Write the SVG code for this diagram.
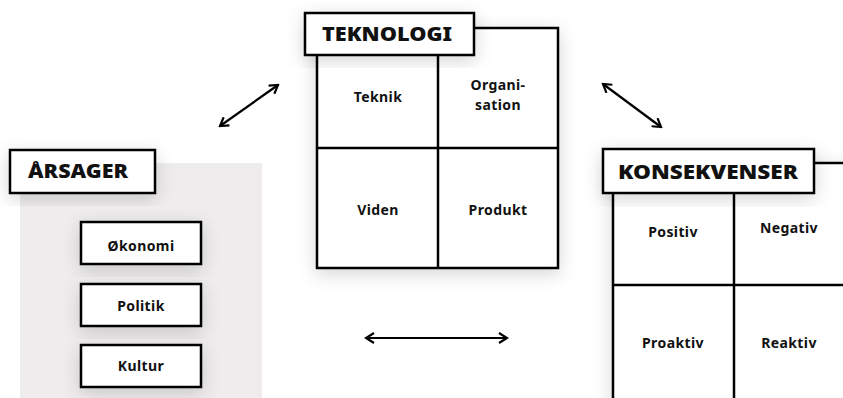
<svg xmlns="http://www.w3.org/2000/svg" width="843" height="398" viewBox="0 0 843 398">
<defs>
<filter id="sh" x="-30%" y="-30%" width="160%" height="160%">
<feDropShadow dx="0" dy="5" stdDeviation="9" flood-color="#000" flood-opacity="0.16"/>
</filter>
<marker id="ah" viewBox="0 0 12 12" refX="10" refY="6" markerWidth="12" markerHeight="12" markerUnits="userSpaceOnUse" orient="auto-start-reverse">
<path d="M2,1 L10,6 L2,11" fill="none" stroke="#000" stroke-width="2.2"/>
</marker>
<style>
.b{fill:#fff;stroke:#000;stroke-width:2.5}
.l{fill:none;stroke:#000;stroke-width:2.5}
.t{font-family:"Noto Sans","Liberation Sans",sans-serif;font-weight:700;fill:#111;text-anchor:middle}
.h{font-size:19px;font-weight:900}
.c{font-size:14px;letter-spacing:0.4px}
.a{fill:none;stroke:#000;stroke-width:2.2}
</style>
</defs>
<rect width="843" height="398" fill="#fff"/>

<g id="arsager">
<rect x="20" y="163" width="242" height="240" fill="#eeecec"/>
<rect class="b" x="10" y="150" width="145" height="43" filter="url(#sh)"/>
<text class="t h" x="78" y="178" textLength="100" lengthAdjust="spacingAndGlyphs">ÅRSAGER</text>
</g>
<g id="okonomi">
<rect class="b" x="81" y="222" width="120" height="42" filter="url(#sh)"/>
<text class="t c" x="141" y="251">Økonomi</text>
</g>
<g id="politik">
<rect class="b" x="81" y="284" width="120" height="42" filter="url(#sh)"/>
<text class="t c" x="141" y="311">Politik</text>
</g>
<g id="kultur">
<rect class="b" x="81" y="345" width="120" height="42" filter="url(#sh)"/>
<text class="t c" x="141" y="371">Kultur</text>
</g>

<g id="teknologi">
<rect class="b" x="317" y="28" width="241" height="240" filter="url(#sh)"/>
<line class="l" x1="438" y1="28" x2="438" y2="268"/>
<line class="l" x1="317" y1="148" x2="558" y2="148"/>
<rect class="b" x="305" y="13" width="169" height="42" filter="url(#sh)"/>
<text class="t h" x="387" y="41" textLength="130" lengthAdjust="spacingAndGlyphs">TEKNOLOGI</text>
<text class="t c" x="378" y="102">Teknik</text>
<text class="t c" x="498" y="90">Organi-</text>
<text class="t c" x="498" y="110">sation</text>
<text class="t c" x="378" y="215">Viden</text>
<text class="t c" x="498" y="215">Produkt</text>
</g>

<g id="konsekvenser">
<rect class="b" x="613" y="163" width="240" height="250" filter="url(#sh)"/>
<line class="l" x1="734" y1="163" x2="734" y2="398"/>
<line class="l" x1="613" y1="285" x2="843" y2="285"/>
<rect class="b" x="603" y="149" width="211" height="44" filter="url(#sh)"/>
<text class="t h" x="708" y="179" textLength="180" lengthAdjust="spacingAndGlyphs">KONSEKVENSER</text>
<text class="t c" x="673" y="237">Positiv</text>
<text class="t c" x="789" y="233">Negativ</text>
<text class="t c" x="673" y="348">Proaktiv</text>
<text class="t c" x="789" y="348">Reaktiv</text>
</g>

<g id="connectors">
<line class="a" x1="220" y1="126" x2="278" y2="85" marker-start="url(#ah)" marker-end="url(#ah)"/>
<line class="a" x1="603" y1="84" x2="661" y2="127" marker-start="url(#ah)" marker-end="url(#ah)"/>
<line class="a" x1="366" y1="338" x2="507" y2="338" marker-start="url(#ah)" marker-end="url(#ah)"/>
</g>
</svg>
